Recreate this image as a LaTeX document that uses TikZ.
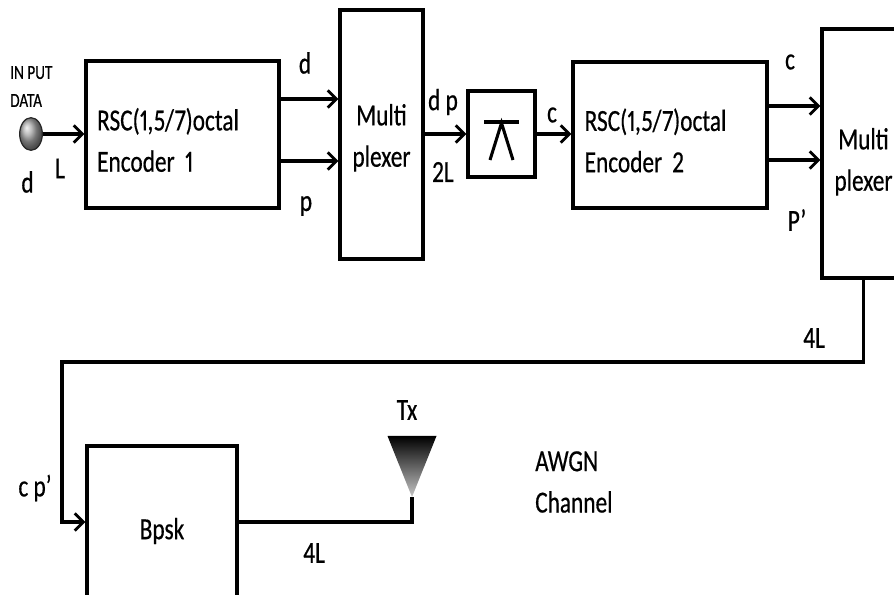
\documentclass[tikz,border=0pt]{standalone}
\usepackage{fontspec}
\setmainfont{Carlito}[FakeStretch=0.76,FakeBold=0.5,Numbers=Proportional]
\usepackage{tikz}
\usetikzlibrary{positioning,calc,arrows.meta,shapes.geometric}
\newcommand{\boxfont}{\fontsize{23}{31}\selectfont}
\newcommand{\tinyfont}{\fontsize{15}{21}\selectfont}
\newcommand{\topgap}[1]{\rule{0pt}{#1}}

\begin{document}
\begin{tikzpicture}[x=0.75pt,y=-0.75pt,
	block/.style={draw,line width=2.3pt,rectangle,inner sep=0pt,font=\boxfont},
	lbl/.style={inner sep=0pt,font=\boxfont},
	wire/.style={line width=2.3pt},
	>={Straight Barb[length=6.5pt,width=13pt,line width=2.2pt]},
	]
	\useasboundingbox (0,0) rectangle (894,595);
	\clip (0,0) rectangle (894,595);
	%blocks
	\node[ellipse,ball color=gray!70,draw=black!85,line width=0.9pt,minimum width=17pt,minimum height=24.5pt,inner sep=0pt] (in) at (31,134) {};
	\node[block,minimum width=144.75pt,minimum height=110.25pt,align=left,text width=128pt] (enc1) at (182.5,134.5) {\topgap{25pt}RSC(1,5/7)octal\\Encoder 1};
	\node[block,minimum width=62.25pt,minimum height=186.75pt,align=center] (mux1) at (381.5,134.5) {\topgap{21pt}Multi\\plexer};
	\node[block,minimum width=50.25pt,minimum height=64.5pt] (delay) at (501.5,134) {};
	\node[block,minimum width=145.5pt,minimum height=109.5pt,align=left,text width=128pt] (enc2) at (670,135) {\topgap{25pt}RSC(1,5/7)octal\\Encoder 2};
	\node[block,minimum width=62.25pt,minimum height=186.75pt,align=center] (mux2) at (863.5,153.5) {\topgap{28.5pt}Multi\\plexer};
	\node[block,minimum width=112.5pt,minimum height=127.5pt] (bpsk) at (162,531) {Bpsk};
	%interleaver sign
	\draw[wire] ($(delay)+(-17.5,-12)$) -- ($(delay)+(17.5,-12)$);
	\draw[wire] ($(delay)+(-11.5,26)$) -- ($(delay)+(0,-11)$) -- ($(delay)+(11.5,26)$);
	%antenna
	\coordinate (ant) at (412,497);
	\shade[top color=black,bottom color=gray!45] (ant) -- ++(-24.5,-61) -- ++(49,0) -- cycle;
	%connections
	\coordinate (e1d) at ($(enc1.east)+(0,-35.5)$);
	\coordinate (e1p) at ($(enc1.east)+(0,26.5)$);
	\coordinate (e2c) at ($(enc2.east)+(0,-29)$);
	\coordinate (e2p) at ($(enc2.east)+(0,25)$);
	\coordinate (loop) at (62,362);
	\coordinate (bin) at ($(bpsk.west)+(0,-9)$);
	\coordinate (bout) at ($(bpsk.east)+(0,-9)$);
	\draw[wire,->] (in.east) -- (in.east -| enc1.west);
	\draw[wire,->] (e1d) -- (e1d -| mux1.west);
	\draw[wire,->] (e1p) -- (e1p -| mux1.west);
	\draw[wire,->] (mux1.east |- delay) -- (delay.west);
	\draw[wire,->] (delay.east) -- (delay.east -| enc2.west);
	\draw[wire,->] (e2c) -- (e2c -| mux2.west);
	\draw[wire,->] (e2p) -- (e2p -| mux2.west);
	\draw[wire,->] (mux2.south) |- (loop) |- (bin);
	\draw[wire] (bout) -| (ant);
	%labels
	\node[inner sep=0pt,font=\tinyfont,align=left,anchor=west] (data) at (10,86.5) {IN PUT\\DATA};
	\node[lbl] (ind) at (27.5,182) {d};
	\node[lbl] (inl) at (60,168.5) {L};
	\node[lbl] (d1) at (305,63) {d};
	\node[lbl] (p1) at (306,206) {p};
	\node[lbl] (dp) at (443,102) {d p};
	\node[lbl] (l2) at (443,172) {2L};
	\node[lbl] (c1) at (552,115) {c};
	\node[lbl] (c2) at (790,62) {c};
	\node[lbl] (p2) at (797,220) {P’};
	\node[lbl] (l4a) at (814,338) {4L};
	\node[lbl] (cp) at (35,488) {c p’};
	\node[lbl] (l4b) at (314,553) {4L};
	\node[lbl] (tx) at (407,410) {Tx};
	\node[lbl,align=left,anchor=west] (awgn) at (535,482) {AWGN\\Channel};
\end{tikzpicture}
\end{document}
